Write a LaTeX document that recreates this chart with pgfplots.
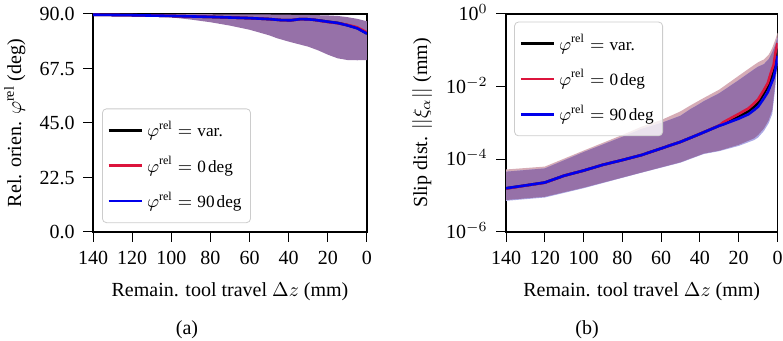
\documentclass[border=0pt]{standalone}
\usepackage{amsmath}
\usepackage{fontspec}
\setmainfont{Liberation Serif}
\usepackage{pgfplots}
\usepackage{pgfplotstable}
\pgfplotsset{compat=1.18}
\usepgfplotslibrary{fillbetween}

\definecolor{bandpurple}{RGB}{150,113,168}
\definecolor{bandpink}{RGB}{214,172,182}
\definecolor{bandblue}{RGB}{172,168,228}
\definecolor{lred}{RGB}{220,20,60}
\definecolor{lblue}{RGB}{0,0,235}

% Panel (a): mean relative orientation
\pgfplotstableread{
z    blk   red   blu
140  89.7  89.7  89.7
120  89.5  89.5  89.5
100  89.2  89.2  89.2
80   88.8  88.8  88.8
60   88.3  88.3  88.3
50   87.9  87.9  87.9
44   87.5  87.5  87.5
39   87.4  87.4  87.4
34   87.9  87.9  87.9
30   87.8  87.8  87.8
27   87.6  87.6  87.6
20   86.8  86.7  86.8
15   86.3  86.2  86.3
10   85.4  85.5  85.3
5    84.2  84.5  84.1
0    82.0  82.4  81.9
}\meanA

\pgfplotstableread{
z    up     lo
140  90.0   89.6
120  90.0   89.4
110  89.95  89.1
100  89.95  88.6
90   89.9   87.7
80   89.9   86.6
70   89.85  85.2
60   89.85  83.5
50   89.8   81.2
46   89.75  80.0
40   89.7   78.6
30   89.6   76.5
25   89.5   75.0
20   89.4   73.2
15   89.2   71.7
10   88.7   71.0
5    88.0   70.9
0    87.0   71.0
}\bandA

% Panel (b): slip distance
\pgfplotstableread{
z    blk       red       blu
140  1.585e-5  1.56e-5   1.60e-5
130  1.905e-5  1.90e-5   1.91e-5
120  2.29e-5   2.28e-5   2.30e-5
110  3.55e-5   3.55e-5   3.55e-5
100  4.90e-5   4.90e-5   4.90e-5
90   7.08e-5   7.08e-5   7.08e-5
80   9.55e-5   9.55e-5   9.55e-5
70   1.318e-4  1.318e-4  1.318e-4
60   1.995e-4  1.995e-4  1.995e-4
50   3.02e-4   3.02e-4   3.02e-4
40   5.01e-4   5.01e-4   5.01e-4
30   8.51e-4   8.51e-4   8.40e-4
28   9.30e-4   1.047e-3  9.10e-4
20   1.479e-3  1.778e-3  1.318e-3
15   2.09e-3   2.512e-3  1.738e-3
12   2.82e-3   3.47e-3   2.29e-3
10   3.55e-3   4.47e-3   2.82e-3
7    6.61e-3   8.13e-3   4.79e-3
5    1.0e-2    1.259e-2  7.08e-3
3.5  1.514e-2  2.344e-2  1.122e-2
2    2.512e-2  3.98e-2   1.778e-2
1    5.37e-2   9.12e-2   3.162e-2
0    0.1122    0.1585    0.0708
}\meanB

\pgfplotstableread{
z    up        lo        pk        lb
140  4.57e-5   7.59e-6   5.25e-5   7.2e-6
120  5.62e-5   9.33e-6   6.31e-5   8.9e-6
100  1.585e-4  1.66e-5   1.738e-4  1.6e-5
80   4.17e-4   3.16e-5   4.68e-4   3.1e-5
70   6.92e-4   4.37e-5   7.94e-4   4.3e-5
60   1.0e-3    6.03e-5   1.202e-3  5.9e-5
50   1.585e-3  8.32e-5   2.09e-3   8.1e-5
45   2.40e-3   1.05e-4   3.02e-3   1.02e-4
42   2.95e-3   1.202e-4  3.72e-3   1.17e-4
38   3.98e-3   1.445e-4  4.90e-3   1.40e-4
30   6.61e-3   1.738e-4  8.32e-3   1.68e-4
20   1.514e-2  2.512e-4  1.995e-2  2.34e-4
12   3.02e-2   3.80e-4   3.98e-2   3.39e-4
10   3.55e-2   4.68e-4   4.68e-2   3.98e-4
7    4.17e-2   7.08e-4   5.62e-2   6.03e-4
4.5  5.75e-2   1.202e-3  7.59e-2   1.0e-3
2.7  8.91e-2   2.29e-3   0.1175    1.778e-3
1.2  0.1413    1.23e-2   0.1905    8.91e-3
0    0.2239    6.31e-2   0.302     4.47e-2
}\bandB

\newcommand{\phirel}{\varphi^{\text{rel}}}

\pgfplotsset{
  panel/.style={
    scale only axis,
    height=109pt,
    x dir=reverse, xmin=0, xmax=140,
    xtick={0,20,...,140},
    tick align=outside, major tick length=5pt,
    xtick pos=bottom, ytick pos=left,
    tick style={black, line width=0.5pt},
    axis line style={line width=0.6pt},
    minor tick length=0pt,
    /pgf/number format/assume math mode=true,
    xticklabel style={anchor=base, inner sep=0pt, yshift=-11.4pt},
    yticklabel style={anchor=base east, inner sep=0pt, xshift=-4pt, yshift=-3.3pt},
    xlabel={Remain. tool travel $\Delta z$ (mm)},
    xlabel style={at={(axis description cs:0.5,-0.275)}, anchor=center},
    legend cell align=left,
    legend image code/.code={\draw[#1] (0pt,0pt) -- (16.5pt,0pt);},
    legend style={draw=black!20, rounded corners=2pt, fill=white,
      fill opacity=0.8, text opacity=1, inner xsep=2.5pt, inner ysep=4pt,
      row sep=4.2pt, font=\fontsize{8.6}{10}\selectfont},
  },
  mline/.style={line width=1.3pt},
}

\begin{document}
\begin{tikzpicture}

\begin{axis}[panel, at={(46.5pt,54.5pt)}, anchor=south west, width=137pt,
  ymin=0, ymax=90, ytick={0,22.5,45,67.5,90},
  yticklabel style={/pgf/number format/.cd, fixed, fixed zerofill, precision=1},
  ylabel={Rel. orien. $\phirel$ (deg)},
  ylabel style={at={(axis description cs:-0.285,0.5)}, anchor=center},
  legend style={at={(0.033,0.041)}, anchor=south west},
]
\addplot[name path=aup, draw=none, forget plot] table[x=z, y=up] {\bandA};
\addplot[name path=alo, draw=none, forget plot] table[x=z, y=lo] {\bandA};
\addplot[bandpurple, forget plot] fill between[of=aup and alo];
\addplot[mline, black] table[x=z, y=blk] {\meanA};
\addplot[mline, lred] table[x=z, y=red] {\meanA};
\addplot[mline, lblue] table[x=z, y=blu] {\meanA};
\addlegendentry{$\phirel = \text{var.}$}
\addlegendentry{$\phirel = \text{0\hspace{1pt}deg}$}
\addlegendentry{$\phirel = \text{90\hspace{1pt}deg}$}
\end{axis}

\begin{axis}[panel, at={(253pt,54.5pt)}, anchor=south west, width=135.75pt,
  ymode=log, ymin=1e-6, ymax=1,
  ytick={1e-6,1e-4,1e-2,1},
  yticklabels={10$^{-6}$,10$^{-4}$,10$^{-2}$,10$^{0}$},
  ylabel={Slip dist. $||\xi_{\alpha}||$ (mm)},
  ylabel style={at={(axis description cs:-0.309,0.5)}, anchor=center},
  legend style={at={(0.03,0.965)}, anchor=north west},
]
\addplot[name path=bpk, draw=none, forget plot] table[x=z, y=pk] {\bandB};
\addplot[name path=bup, draw=none, forget plot] table[x=z, y=up] {\bandB};
\addplot[name path=blo, draw=none, forget plot] table[x=z, y=lo] {\bandB};
\addplot[name path=blb, draw=none, forget plot] table[x=z, y=lb] {\bandB};
\addplot[bandpink, forget plot] fill between[of=bpk and blo];
\addplot[bandblue, forget plot] fill between[of=bup and blb];
\addplot[bandpurple, forget plot] fill between[of=bup and blo];
\addplot[mline, black] table[x=z, y=blk] {\meanB};
\addplot[mline, lred] table[x=z, y=red] {\meanB};
\addplot[mline, lblue] table[x=z, y=blu] {\meanB};
\addlegendentry{$\phirel = \text{var.}$}
\addlegendentry{$\phirel = \text{0\hspace{1pt}deg}$}
\addlegendentry{$\phirel = \text{90\hspace{1pt}deg}$}
\end{axis}

\node at (93.5pt,5.5pt) {(a)};
\node at (293.5pt,5.5pt) {(b)};
\pgfresetboundingbox
\useasboundingbox (0,0) rectangle (391.5pt,170.5pt);
\end{tikzpicture}
\end{document}
